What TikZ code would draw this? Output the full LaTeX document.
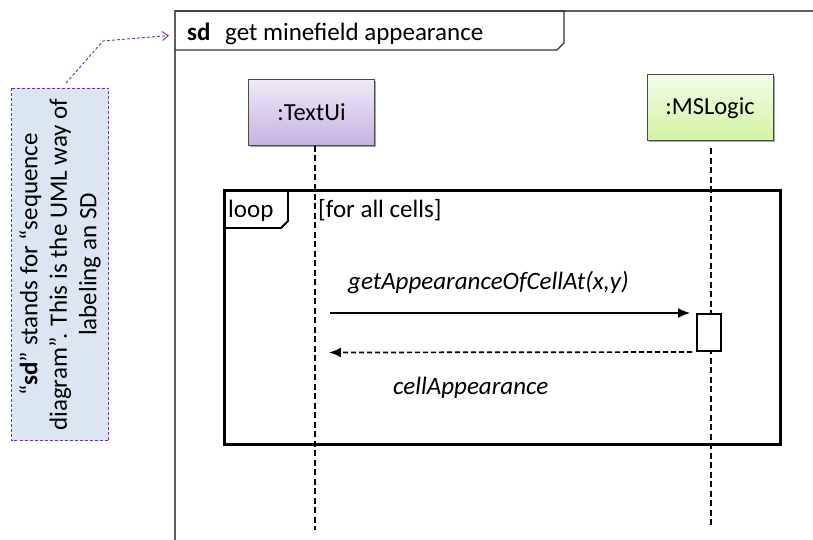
\documentclass[tikz,border=0pt]{standalone}
\usepackage{fontspec}
\setmainfont{Carlito}
\usetikzlibrary{arrows.meta,shadows}
\definecolor{notefill}{HTML}{DCE6F2}
\definecolor{noteline}{HTML}{7030A0}
\definecolor{uitop}{HTML}{EFEAF8}
\definecolor{uibot}{HTML}{C6B2E2}
\definecolor{logtop}{HTML}{F4FCE8}
\definecolor{logbot}{HTML}{D3F3A2}
\definecolor{framegray}{HTML}{5F5F5F}
\begin{document}
\begin{tikzpicture}[x=1pt,y=-1pt,
  txt/.style={font=\fontsize{25}{30}\selectfont, inner sep=0pt},
  head/.style={draw=black!70, line width=1pt, inner sep=0pt,
    minimum width=126pt, minimum height=66pt,
    font=\fontsize{24.5}{29}\selectfont,
    drop shadow={shadow xshift=1.5pt, shadow yshift=-1.5pt, opacity=0.35, fill=black}},
  lifeline/.style={line width=2.3pt, dash pattern=on 6pt off 3.5pt},
  msg/.style={line width=1.4pt, -{Latex[length=12pt,width=10pt]}},
  reply/.style={line width=1.7pt, dash pattern=on 5pt off 3pt, -{Latex[length=12pt,width=10pt]}},
  notearrow/.style={draw=noteline, line width=0.9pt, dash pattern=on 3pt off 2pt,
    -{Straight Barb[length=6pt,width=9pt]}},
]
\useasboundingbox (0,0) rectangle (813,540);

% diagram frame and its name tab
\draw[framegray, line width=1.5pt] (813,11) -- (175,11) -- (175,540);
\draw[black!80, line width=1.2pt] (175,11) -- (564,11) -- (564,43) -- (557,50) -- (175,50);
\node[txt, anchor=base west] (sdkw) at (187,41) {\textbf{sd}};
\node[txt, anchor=base west] (sdname) at (225,41) {get minefield appearance};
\coordinate (tabw) at (175,35);

% note
\node[rotate=90, draw=noteline, fill=notefill, line width=0.9pt,
      dash pattern=on 3pt off 2pt, minimum width=352pt, minimum height=97pt,
      align=center, font=\fontsize{25}{29.5}\selectfont, inner sep=0pt]
  (note) at (60,264.5)
  {“\textbf{sd}” stands for “sequence\\diagram”. This is the UML way of\\labeling an SD};
\coordinate (nbend) at (103,41);
\draw[notearrow, shorten >=6pt] ([xshift=6pt,yshift=5pt]note.east) -- (nbend) -- (tabw);

% lifeline heads
\node[head, top color=uitop, bottom color=uibot] (tu) at (311.5,112.5) {:TextUi};
\node[head, top color=logtop, bottom color=logbot] (ms) at (710,108) {:MSLogic};

% lifelines
\coordinate (tuend) at (315,530);
\coordinate (msend) at (711,528);
\draw[lifeline] (tuend |- tu.south) -- (tuend);
\draw[lifeline] ([yshift=-7pt]msend |- ms.south) -- (msend);

% loop fragment
\draw[line width=3pt] (224.5,190.5) rectangle (780.5,444.5);
\draw[line width=1.8pt] (224.5,190.5) -- (288,190.5) -- (288,221) -- (281,228) -- (224.5,228);
\node[txt, anchor=base west] (loopkw) at (228,217) {loop};
\node[txt, anchor=base west] (guard) at (318,217) {[for all cells]};

% activation bar
\node[draw, line width=2pt, fill=white, inner sep=0pt,
      minimum width=24pt, minimum height=37pt] (act) at (709,332.5) {};

% messages
\coordinate (m1s) at (330,313);
\coordinate (m2e) at (329,352.5);
\draw[msg, shorten >=6pt] (m1s) -- (act.north west);
\draw[reply, shorten <=4pt] (act.south west) -- (m2e);
\node[txt, anchor=base west, font=\fontsize{25}{30}\selectfont\itshape] (call) at (348,289) {getAppearanceOfCellAt(x,y)};
\node[txt, anchor=base west, font=\fontsize{25}{30}\selectfont\itshape] (ret) at (393,394) {cellAppearance};
\end{tikzpicture}
\end{document}
